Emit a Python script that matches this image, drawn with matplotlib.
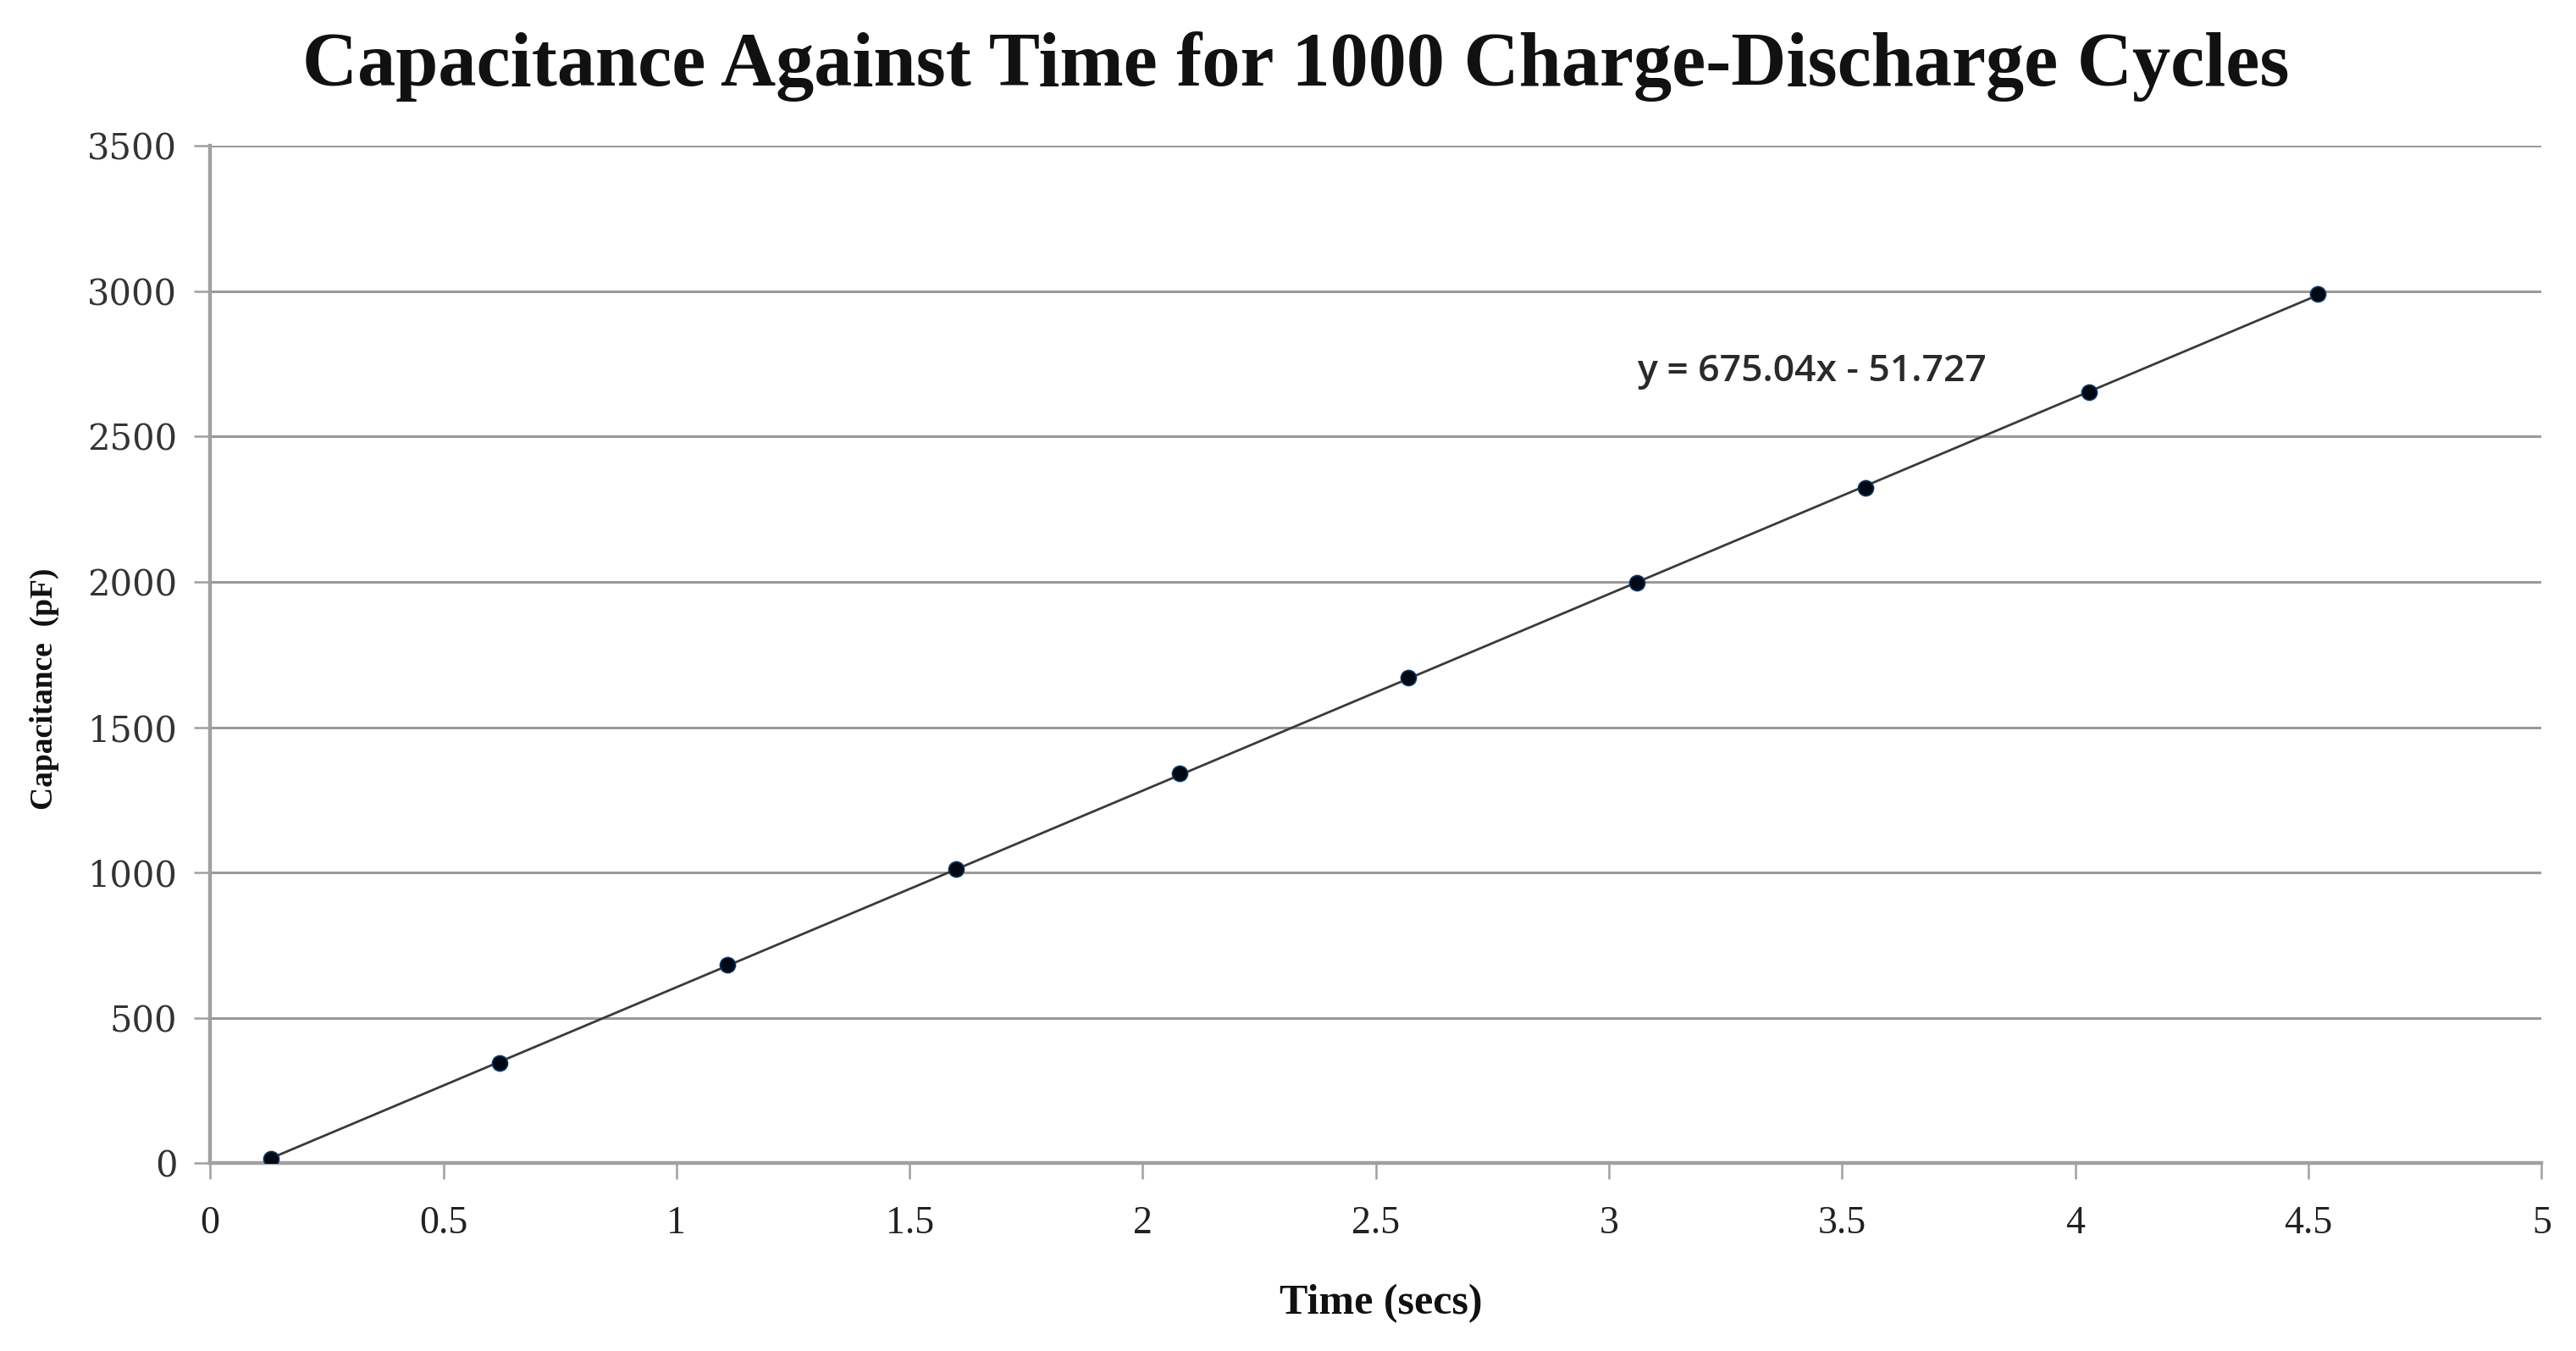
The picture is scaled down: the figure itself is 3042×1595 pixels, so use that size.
import numpy as np
import matplotlib
matplotlib.use("Agg")
import matplotlib.pyplot as plt

# Data
time_secs = [0.13, 0.62, 1.11, 1.60, 2.08, 2.57, 3.06, 3.55, 4.03, 4.52]
capacitance_pf = [15, 345, 682, 1012, 1342, 1672, 1996, 2324, 2652, 2990]
x_ticks = [0, 0.5, 1, 1.5, 2, 2.5, 3, 3.5, 4, 4.5, 5]
x_tick_labels = ["0", "0.5", "1", "1.5", "2", "2.5", "3", "3.5", "4", "4.5", "5"]
y_ticks = [0, 500, 1000, 1500, 2000, 2500, 3000, 3500]
title = "Capacitance Against Time for 1000 Charge-Discharge Cycles"
equation = "y = 675.04x - 51.727"

fig = plt.figure(figsize=(30.42, 15.95), dpi=100)
ax = fig.add_axes([0.0816, 0.139, 0.905, 0.753])

ax.set_xlim(0, 5)
ax.set_ylim(0, 3500)

# grid lines
for yv in y_ticks[1:]:
    ax.axhline(yv, color="#9a9a9a", lw=2.2, zorder=1)

# trendline
coef = np.polyfit(time_secs, capacitance_pf, 1)
xs = np.array([min(time_secs), max(time_secs)])
ax.plot(xs, np.polyval(coef, xs), color="#3a3a3a", lw=2.0, zorder=2)

# points
ax.plot(time_secs, capacitance_pf, "o", color="#000814", markersize=13,
        markeredgecolor="#0d3560", markeredgewidth=1.2, zorder=3)

ax.text(3.06, 2725, equation, fontsize=32, family="Open Sans", fontweight="semibold",
        color="#2a2a2a", va="center", ha="left")

for s in ["top", "right"]:
    ax.spines[s].set_visible(False)
for s in ["left", "bottom"]:
    ax.spines[s].set_color("#a0a0a0")
    ax.spines[s].set_linewidth(3.2)

ax.set_xticks(x_ticks)
ax.set_xticklabels(x_tick_labels, family="Liberation Serif", fontsize=33, color="#222222")
ax.set_yticks(y_ticks)
ax.set_yticklabels([str(v) for v in y_ticks], family="DejaVu Serif", fontsize=30, color="#333333")
ax.tick_params(axis="x", length=14, width=1.8, color="#a0a0a0", pad=22)
ax.tick_params(axis="y", length=14, width=1.8, color="#a0a0a0", pad=14)

fig.text(0.503, 0.951, title, family="Liberation Serif", fontweight="bold",
         fontsize=65, ha="center", va="center", color="#111111")
fig.text(0.536, 0.035, "Time (secs)", family="Liberation Serif", fontweight="bold",
         fontsize=36, ha="center", va="center", color="#111111")
fig.text(0.0172, 0.49, "Capacitance  (pF)", family="Liberation Serif", fontweight="bold",
         fontsize=27, ha="center", va="center", rotation=90, color="#111111")

fig.savefig("out.png", dpi=100)
